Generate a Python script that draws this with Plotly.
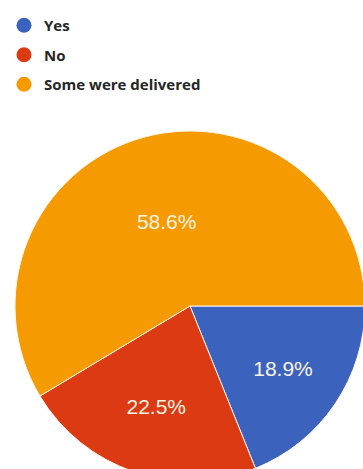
import plotly.graph_objects as go

labels = ["Yes", "No", "Some were delivered"]
values = [18.9, 22.5, 58.6]
colors = ["#3b63be", "#dc3a12", "#f59a00"]

W, H = 365, 481
R = 175
cx, top = 190, 131

fig = go.Figure()
fig.add_trace(go.Pie(
    labels=labels, values=values, sort=False, direction="clockwise", rotation=90,
    marker=dict(colors=colors, line=dict(color="#fff6ea", width=1)),
    textinfo="percent", texttemplate="%{percent:.1%}", textposition="inside",
    insidetextorientation="horizontal",
    textfont=dict(family="Liberation Sans, Arial, sans-serif", size=21, color="#fbf4e4"),
    showlegend=False, hoverinfo="label+percent",
    domain=dict(x=[(cx - R) / W, 1.0], y=[0, 2 * R / H]),
))
for i, (lab, col) in enumerate(zip(labels, colors)):
    fig.add_trace(go.Scatter(
        x=[None], y=[None], mode="markers", name=lab, legendgroup=f"g{i}",
        marker=dict(color=col, size=15, symbol="circle"),
    ))

fig.update_layout(
    width=W, height=H, margin=dict(l=0, r=0, t=0, b=0),
    paper_bgcolor="white", plot_bgcolor="white",
    xaxis=dict(visible=False), yaxis=dict(visible=False),
    legend=dict(x=4 / W, xanchor="left", y=1 - 9 / H, yanchor="top",
                font=dict(family="Open Sans, Roboto, sans-serif", size=15, color="#262626", weight="bold"),
                tracegroupgap=7, bgcolor="rgba(0,0,0,0)"),
)

fig.write_html("out.html", post_script="document.documentElement.style.overflow='hidden';document.body.style.overflow='hidden';")
